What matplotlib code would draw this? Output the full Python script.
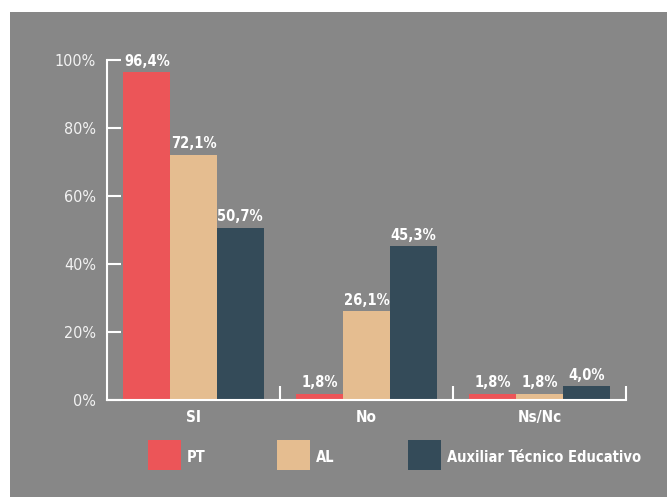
import matplotlib
matplotlib.use('Agg')
from matplotlib import pyplot as plt
from matplotlib.patches import Rectangle
import numpy as np

categories = ['SI', 'No', 'Ns/Nc']
series_names = ['PT', 'AL', 'Auxiliar Técnico Educativo']
pt_values = [96.4, 1.8, 1.8]
al_values = [72.1, 26.1, 1.8]
ate_values = [50.7, 45.3, 4.0]
y_ticks = [0, 20, 40, 60, 80, 100]
y_tick_labels = ['0%', '20%', '40%', '60%', '80%', '100%']

colors = ['#ec5558', '#e5bd90', '#344b59']
bg = '#878787'
fam = ['DejaVu Sans']

fig = plt.figure(figsize=(6.67, 4.97), dpi=100, facecolor='white')
# grey panel with white strip on left and top
fig.patches.append(Rectangle((10 / 667, 0), 1, 1 - 12 / 497, transform=fig.transFigure,
                             facecolor=bg, edgecolor='none', zorder=-10))

ax = fig.add_axes([107 / 667, 1 - 400 / 497, (626 - 107) / 667, (400 - 60) / 497])
ax.set_facecolor('none')

x = np.arange(len(categories))
w = 0.27
all_vals = [pt_values, al_values, ate_values]
for i, vals in enumerate(all_vals):
    xs = x + (i - 1) * w
    ax.bar(xs, vals, width=w, color=colors[i], label=series_names[i], zorder=2)
    for xx, v in zip(xs, vals):
        ax.text(xx, v + 1.0, ('%.1f%%' % v).replace('.', ','), ha='center', va='bottom',
                color='white', fontsize=10.5, fontweight='bold', fontstretch='condensed',
                family=fam, clip_on=False)

ax.set_xlim(-0.5, 2.5)
ax.set_ylim(0, 100)
for s in ['top', 'right']:
    ax.spines[s].set_visible(False)
for s in ['left', 'bottom']:
    ax.spines[s].set_color('white')
    ax.spines[s].set_linewidth(1.5)

ax.set_yticks(y_ticks)
ax.set_yticklabels(y_tick_labels)
ax.tick_params(axis='y', direction='in', length=10, width=1.5, color='white',
               labelcolor='#f2f2f2', labelsize=11.5, pad=8)
for lab in ax.get_yticklabels():
    lab.set_family(fam)
    lab.set_fontstretch('condensed')

ax.set_xticks(x)
ax.set_xticklabels(categories)
ax.tick_params(axis='x', which='major', length=0, labelcolor='white', labelsize=11, pad=7)
for lab in ax.get_xticklabels():
    lab.set_family(fam)
    lab.set_fontweight('bold')
    lab.set_fontstretch('condensed')
ax.set_xticks([0.5, 1.5, 2.5], minor=True)
ax.tick_params(axis='x', which='minor', direction='in', length=10, width=1.5, color='white')

# legend drawn by hand to match the spacing of the reference
leg_x = [148, 277, 408]
for lx, c, name in zip(leg_x, colors, series_names):
    fig.patches.append(Rectangle((lx / 667, 1 - 470 / 497), 33 / 667, 30 / 497,
                                 transform=fig.transFigure, facecolor=c, edgecolor='none'))
    fig.text((lx + 39) / 667, 1 - 457 / 497, name, ha='left', va='center', color='white',
             fontsize=10.5, fontweight='bold', fontstretch='condensed', family=fam)

fig.savefig('out.png', dpi=100, facecolor='white')
